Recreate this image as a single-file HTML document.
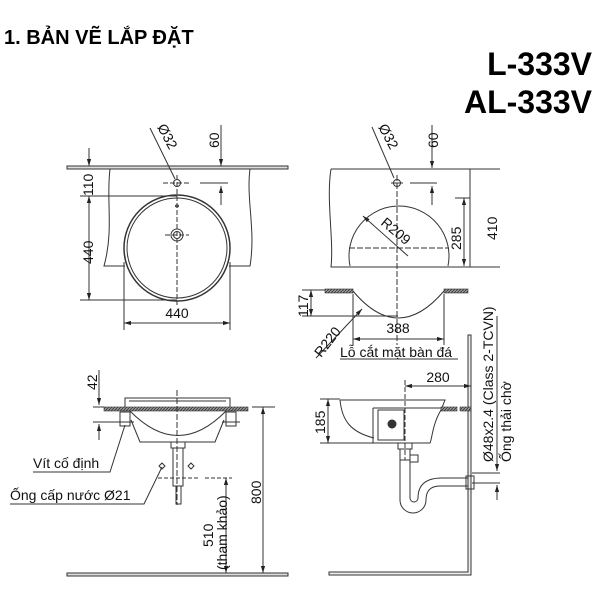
<!DOCTYPE html>
<html><head><meta charset="utf-8"><style>
body{margin:0;background:#fff}
svg{display:block;font-family:"Liberation Sans",Arial,sans-serif}
</style></head><body>
<svg width="600" height="600" viewBox="0 0 600 600" xmlns="http://www.w3.org/2000/svg">
<defs>
<marker id="a" viewBox="0 0 10 10" refX="10" refY="5" markerWidth="7" markerHeight="7" orient="auto-start-reverse"><path d="M0,2 L10,5 L0,8z" fill="#222"/></marker>
<pattern id="h" width="3" height="3" patternUnits="userSpaceOnUse"><rect width="3" height="3" fill="#999"/><path d="M0,3 L3,0" stroke="#333" stroke-width="0.8"/></pattern>
</defs>
<text x="4" y="44" font-size="20" font-weight="bold">1. BẢN VẼ LẮP ĐẶT</text>
<text x="592" y="75" font-size="32" font-weight="bold" text-anchor="end">L-333V</text>
<text x="592" y="113" font-size="32" font-weight="bold" text-anchor="end">AL-333V</text>

<g fill="none" stroke="#333" stroke-width="1">
<rect x="67" y="166" width="221" height="3" fill="#ddd"/>
<path d="M110,169 C106,200 114,230 104,266 L125,266 M250,169 C246,200 256,230 250,266 L229,266"/>
<circle cx="177" cy="248" r="53" stroke-width="1.5"/>
<circle cx="177" cy="248" r="50"/>
<circle cx="177" cy="235" r="6"/><circle cx="177" cy="235" r="3.5"/>
<circle cx="177" cy="183" r="3.5"/>
<ellipse cx="177" cy="206" rx="1.5" ry="1"/>
<path d="M177,175 V305 M163,183 H191 M165,235 H189" stroke-dasharray="5,2"/>
<path d="M80,196 H177 M80,300 H177 M124,262 V330 M230,262 V330 M200,183 H228 M150,128 L175,179"/>
<path d="M89,196 V300" marker-start="url(#a)" marker-end="url(#a)"/>
<path d="M89,148 V166" marker-end="url(#a)"/>
<path d="M124,323 H230" marker-start="url(#a)" marker-end="url(#a)"/>
<path d="M221,125 V166" marker-end="url(#a)"/>
<path d="M221,205 V186" marker-end="url(#a)"/>

<path d="M331,169 H470 V267 H331 C334,240 326,200 331,169"/>
<path d="M350,266 A50,50 0 1 1 448,266"/>
<path d="M397,175 V345 M349,248 H449" stroke-dasharray="6,2"/>
<circle cx="397" cy="183" r="3.5"/><path d="M391,183 H403"/>
<path d="M410,183 H437 M455,198 H470 M470,169 H500 M470,267 H500 M372,127 L394,178"/>
<path d="M408,256 L363,216" marker-end="url(#a)"/>
<path d="M464,198 V266" marker-start="url(#a)" marker-end="url(#a)"/>
<path d="M432,125 V168" marker-end="url(#a)"/>
<path d="M432,205 V186" marker-end="url(#a)"/>
<rect x="325" y="289" width="28" height="4" fill="url(#h)" stroke-width="0.6"/>
<rect x="444" y="289" width="24" height="4" fill="url(#h)" stroke-width="0.6"/>
<path d="M353,291 Q398,345 444,291"/>
<path d="M353,294 V345 M444,294 V345 M302,290 H325 M302,316 H398"/>
<path d="M311,290 V316" marker-start="url(#a)" marker-end="url(#a)"/>
<path d="M353,339 H444" marker-start="url(#a)" marker-end="url(#a)"/>
<path d="M316,358 L362,309" marker-end="url(#a)"/>
<path d="M340,359 H458"/>

<rect x="104" y="407" width="144" height="4" fill="url(#h)" stroke-width="0.6"/>
<path d="M125,407 V398 H230 V407 M129,401 H226"/>
<path d="M130,411 Q178,460 226,411"/>
<path d="M131,420 L140,442 H215 L224,420"/>
<path d="M120,412 h10 v14 h-10z M226,412 h10 v14 h-10z"/>
<path d="M116,422 H134 M222,422 H240"/>
<path d="M171,442 h14 v6 h-14z M173,448 v38 h10 v-38 M176,486 v18 h5 v-18"/>
<path d="M177,390 V505" stroke-dasharray="6,2"/>
<path d="M158,478 H200 M205,478 H232" stroke-dasharray="4,2"/>
<path d="M162,463 l3,3 -3,3 -3,-3z M191,463 l3,3 -3,3 -3,-3z"/>
<path d="M93,407 H104 M93,422 H120 M252,407 H275 M250,575 H270"/>
<path d="M99,370 V405" marker-end="url(#a)"/>
<path d="M99,440 V424" marker-end="url(#a)"/>
<path d="M263,407 V573" marker-start="url(#a)" marker-end="url(#a)"/>
<path d="M226,478 V573" marker-start="url(#a)" marker-end="url(#a)"/>
<rect x="67" y="573" width="221" height="3" fill="#ddd"/>
<path d="M33,472 H110 L125,425"/>
<path d="M10,504 H144 L162,467"/>

<path d="M471,335 V575 H329 V572 H468 V335z" fill="#eee"/>
<path d="M340,400 H445 L441,410 C432,425 432,440 430,443 H373 M340,400 C342,420 350,432 374,438"/>
<path d="M373,408 H441 M373,408 V443 M378,410 V440 H404 V410z"/>
<circle cx="392" cy="424" r="4" fill="#333"/>
<rect x="441" y="407" width="16" height="4" fill="url(#h)" stroke-width="0.6"/>
<rect x="460" y="407" width="11" height="4" fill="url(#h)" stroke-width="0.6"/>
<path d="M398,443 h14 v6 h-14z M400,449 v11 h10 v-11 M410,455 h8 v7 h-8z"/>
<path d="M400,460 v40 a10,10 0 0 0 26,0 q0,-14 14,-14 h28 M410,460 v38 a3,3 0 0 0 8,0 q0,-20 24,-20 h26"/>
<path d="M466,476 h8 v13 h-8z"/>
<path d="M405,380 V460" stroke-dasharray="5,2"/>
<path d="M320,399 H340 M320,443 H373 M472,483 H500 M472,473 H500"/>
<path d="M328,399 V443" marker-start="url(#a)" marker-end="url(#a)"/>
<path d="M405,386 H471" marker-start="url(#a)" marker-end="url(#a)"/>
<path d="M497,316 V471" marker-end="url(#a)"/>
<path d="M497,500 V485" marker-end="url(#a)"/>
</g>

<g font-size="14" fill="#111">
<text transform="translate(93,196) rotate(-90)">110</text>
<text transform="translate(93,264) rotate(-90)">440</text>
<text x="177" y="318" text-anchor="middle">440</text>
<text transform="translate(219,148) rotate(-90)">60</text>
<text transform="translate(157,127) rotate(62)">Ø32</text>
<text transform="translate(378,127) rotate(62)">Ø32</text>
<text transform="translate(438,148) rotate(-90)">60</text>
<text transform="translate(380,224) rotate(40)">R209</text>
<text transform="translate(461,250) rotate(-90)">285</text>
<text transform="translate(497,240) rotate(-90)">410</text>
<text transform="translate(308,317) rotate(-90)">117</text>
<text x="398" y="333" text-anchor="middle">388</text>
<text transform="translate(321,358) rotate(-52)">R220</text>
<text x="340" y="357">Lỗ cắt mặt bàn đá</text>
<text transform="translate(97,390) rotate(-90)">42</text>
<text x="33" y="468">Vít cố định</text>
<text x="10" y="500">Ống cấp nước Ø21</text>
<text transform="translate(213,547) rotate(-90)">510</text>
<text transform="translate(227,570) rotate(-90)">(tham khảo)</text>
<text transform="translate(261,504) rotate(-90)">800</text>
<text transform="translate(325,434) rotate(-90)">185</text>
<text x="438" y="382" text-anchor="middle">280</text>
<text transform="translate(493,462) rotate(-90)">Ø48x2.4 (Class 2-TCVN)</text>
<text transform="translate(511,462) rotate(-90)">Ống thải chờ</text>
</g>
</svg>
</body></html>
